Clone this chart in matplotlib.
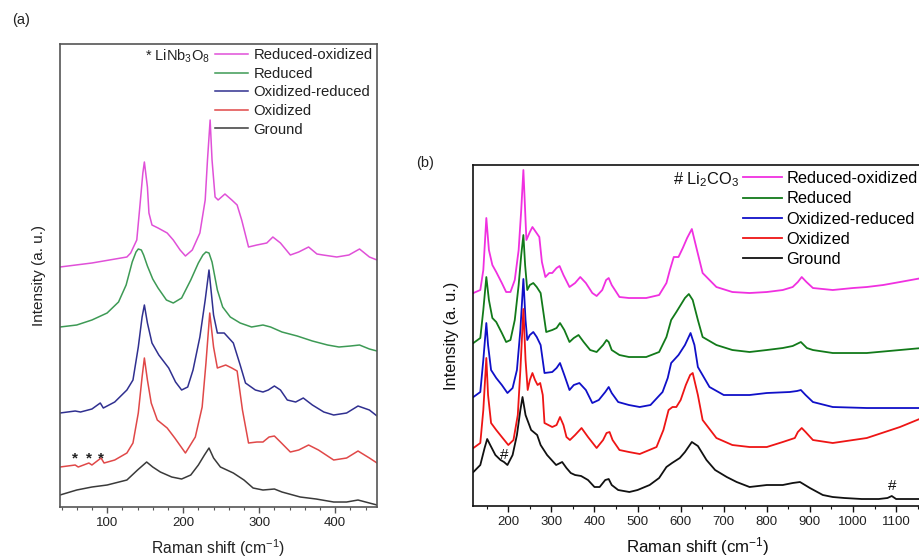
import numpy as np
import matplotlib
matplotlib.use("Agg")
import matplotlib.pyplot as plt
from matplotlib.ticker import MultipleLocator, NullLocator

plt.rcParams['font.family'] = ['Liberation Sans', 'DejaVu Sans']
plt.rcParams['mathtext.default'] = 'regular'

LABELS = ["Reduced-oxidized", "Reduced", "Oxidized-reduced", "Oxidized", "Ground"]

# (a) low-wavenumber spectra, offset stacks (a.u.)
ro_a_x = [38, 80, 126, 131, 139, 143, 147, 149, 153, 155, 159, 167, 179, 187, 196, 203, 212, 222, 229,
          232, 235.5, 238, 242, 246, 255, 264, 271, 277, 286, 297, 310, 318, 328, 341, 352, 365, 376,
          384, 402, 418, 432, 445, 455]
ro_a_y = [240, 244, 250, 254, 267, 300, 334, 345, 320, 294, 282, 279, 274, 267, 257, 251, 257, 274, 307,
          347, 387, 347, 310, 307, 313, 307, 302, 287, 260, 262, 264, 270, 264, 252, 255, 260, 253,
          252, 250, 252, 258, 250, 247]

red_a_x = [38, 60, 80, 100, 115, 125, 133, 138, 141, 145, 148, 153, 160, 167, 178, 187, 198, 210, 220,
           226, 230, 234, 238, 245, 252, 262, 275, 290, 305, 315, 330, 350, 370, 390, 405, 420, 432,
           445, 455]
red_a_y = [180, 182, 187, 194, 205, 222, 245, 255, 258, 257, 252, 241, 228, 219, 207, 204, 209, 227, 244,
           252, 255, 254, 245, 217, 200, 190, 184, 180, 182, 180, 175, 171, 166, 162, 160, 161, 162,
           158, 156]

or_a_x = [38, 58, 65, 80, 91, 95, 110, 126, 134, 141, 146, 149, 153, 159, 168, 181, 190, 198, 206, 213,
          222, 229, 234, 240, 245, 254, 266, 275, 282, 295, 305, 312, 320, 328, 337, 348, 358, 370, 385,
          398, 415, 430, 445, 455]
or_a_y = [94, 96, 95, 98, 104, 99, 105, 117, 127, 160, 190, 202, 184, 164, 152, 139, 125, 117, 120, 137,
          170, 207, 237, 192, 174, 174, 164, 142, 124, 117, 115, 117, 121, 117, 107, 105, 109, 102, 95,
          92, 94, 101, 97, 91]

ox_a_x = [38, 58, 62, 76, 80, 92, 96, 110, 126, 134, 141, 146, 149, 153, 158, 166, 179, 189, 203, 216,
          225, 230, 235, 240, 245, 256, 264, 271, 278, 286, 297, 305, 313, 320, 328, 341, 352, 365, 378,
          398, 415, 430, 445, 455]
ox_a_y = [40, 42, 40, 44, 42, 49, 44, 47, 54, 64, 94, 130, 149, 127, 104, 87, 79, 69, 54, 70, 100, 144,
          194, 160, 139, 142, 139, 136, 97, 64, 65, 65, 70, 71, 65, 55, 57, 62, 57, 47, 49, 56, 49, 44]

gr_a_x = [38, 60, 80, 100, 126, 140, 152, 160, 170, 185, 198, 210, 220, 228, 234, 240, 249, 266, 280,
          292, 305, 320, 330, 354, 375, 398, 415, 430, 445, 455]
gr_a_y = [12, 17, 20, 22, 27, 37, 45, 40, 35, 30, 28, 32, 42, 52, 59, 49, 40, 34, 27, 19, 17, 18, 15,
          10, 8, 5, 5, 7, 4, 2]

# (b) full-range spectra
ro_b_x = [119, 135, 142, 149, 155, 163, 172, 185, 195, 205, 215, 224, 230, 235, 239, 242, 250, 256, 264,
          272, 278, 286, 295, 302, 312, 319, 328, 342, 355, 367, 380, 395, 405, 418, 427, 433, 440, 458,
          480, 520, 550, 567, 575, 584, 595, 605, 615, 626, 635, 651, 683, 720, 760, 800, 837, 860, 872,
          881, 892, 907, 953, 1000, 1032, 1070, 1109, 1160]
ro_b_y = [213, 216, 236, 288, 256, 241, 234, 223, 214, 214, 226, 256, 296, 336, 296, 266, 274, 279, 274,
          269, 244, 229, 233, 233, 238, 240, 231, 219, 223, 229, 223, 213, 210, 216, 226, 228, 221, 209,
          208, 208, 211, 223, 236, 249, 249, 258, 268, 277, 261, 233, 219, 214, 213, 214, 216, 219, 224,
          229, 224, 218, 216, 218, 219, 221, 224, 228]

red_b_x = [119, 135, 142, 149, 155, 163, 172, 185, 195, 205, 215, 224, 230, 235, 239, 244, 250, 258, 266,
           275, 288, 302, 312, 320, 330, 342, 352, 363, 375, 390, 405, 420, 428, 433, 440, 458, 480, 520,
           550, 567, 578, 590, 600, 610, 619, 628, 640, 651, 683, 720, 760, 800, 837, 860, 879, 893, 907,
           953, 1032, 1109, 1160]
red_b_y = [163, 168, 196, 229, 206, 188, 184, 173, 164, 166, 186, 221, 251, 271, 241, 216, 221, 223, 219,
           213, 174, 176, 178, 183, 176, 164, 168, 171, 164, 156, 154, 161, 166, 164, 156, 151, 149, 149,
           154, 169, 186, 194, 201, 208, 212, 206, 186, 169, 161, 156, 154, 156, 158, 160, 164, 158, 156,
           153, 153, 156, 158]

or_b_x = [119, 135, 142, 149, 153, 160, 172, 185, 198, 210, 220, 228, 235, 240, 244, 250, 258, 266, 275,
          284, 302, 312, 320, 330, 342, 352, 365, 380, 395, 410, 425, 433, 440, 455, 480, 505, 530, 558,
          570, 578, 595, 610, 623, 632, 640, 667, 700, 721, 760, 800, 853, 870, 879, 890, 907, 953, 1032,
          1109, 1160]
or_b_y = [109, 114, 146, 183, 161, 136, 128, 121, 113, 118, 136, 176, 227, 186, 166, 171, 174, 169, 161,
          133, 134, 138, 143, 131, 116, 121, 123, 116, 103, 106, 114, 119, 113, 104, 101, 99, 101, 114,
          128, 143, 151, 161, 173, 161, 139, 119, 111, 111, 111, 113, 114, 115, 116, 111, 104, 99, 98,
          98, 98]

ox_b_x = [119, 135, 142, 149, 153, 160, 172, 185, 200, 212, 222, 228, 235, 240, 245, 250, 256, 262, 268,
          274, 280, 284, 302, 312, 320, 328, 335, 343, 355, 370, 385, 405, 420, 428, 435, 442, 458, 480,
          505, 544, 560, 572, 581, 590, 600, 612, 622, 628, 640, 651, 683, 720, 760, 800, 837, 865, 872,
          881, 890, 907, 953, 1032, 1109, 1160]
ox_b_y = [58, 63, 96, 148, 111, 83, 76, 69, 61, 66, 91, 136, 197, 146, 116, 126, 133, 126, 121, 123, 111,
          83, 79, 81, 89, 81, 69, 66, 71, 78, 69, 58, 66, 73, 74, 66, 56, 54, 52, 59, 76, 96, 99, 99, 106,
          121, 131, 133, 111, 86, 68, 61, 59, 59, 64, 68, 74, 78, 74, 66, 63, 68, 79, 88]

gr_b_x = [119, 135, 145, 151, 158, 170, 182, 190, 198, 210, 220, 228, 233, 240, 253, 267, 275, 290, 311,
          325, 335, 345, 355, 369, 385, 400, 412, 425, 433, 440, 455, 481, 500, 528, 550, 567, 580, 598,
          610, 626, 640, 660, 680, 707, 730, 760, 800, 837, 860, 877, 900, 930, 953, 980, 1020, 1060,
          1080, 1090, 1100, 1120, 1160]
gr_b_y = [34, 41, 58, 67, 61, 51, 46, 44, 41, 51, 71, 96, 109, 91, 76, 71, 61, 51, 41, 44, 38, 33, 31,
          30, 26, 19, 19, 26, 27, 21, 16, 14, 16, 21, 28, 39, 43, 48, 54, 64, 60, 46, 36, 29, 24, 19, 21,
          21, 23, 24, 18, 11, 9, 8, 7, 7, 8, 10, 7, 7, 7]

colors_a = ["#e050d8", "#3d9a55", "#303090", "#e04848", "#3a3a3a"]
colors_b = ["#f030e0", "#127a1a", "#1010c8", "#ee1515", "#111111"]


def style_axes(ax, xlim, ylim, major, minor, edge):
    ax.set_xlim(*xlim)
    ax.set_ylim(*ylim)
    ax.xaxis.set_major_locator(MultipleLocator(major))
    ax.xaxis.set_minor_locator(MultipleLocator(minor))
    ax.yaxis.set_major_locator(NullLocator())
    ax.tick_params(axis='x', which='major', direction='out', length=4, width=1.0, labelsize=9.5,
                   pad=3, colors=edge)
    ax.tick_params(axis='x', which='minor', direction='out', length=2.5, width=0.8, colors=edge)
    ax.tick_params(axis='x', labelcolor='#222222')
    for s in ax.spines.values():
        s.set_color(edge)
        s.set_linewidth(1.2)


def draw_panel(ax, series, colors, lw):
    lines = []
    for (x, y), c in zip(series, colors):
        lines.append(ax.plot(x, y, color=c, lw=lw, solid_joinstyle='round')[0])
    return lines


fig = plt.figure(figsize=(9.2, 5.59), dpi=100)

# panel (a)
ax_a = fig.add_axes([0.0652, 0.0930, 0.3446, 0.8283])
series_a = [(ro_a_x, ro_a_y), (red_a_x, red_a_y), (or_a_x, or_a_y), (ox_a_x, ox_a_y), (gr_a_x, gr_a_y)]
lines_a = draw_panel(ax_a, series_a, colors_a, 1.1)
style_axes(ax_a, (38, 455), (0, 463), 100, 20, '#555555')
ax_a.set_xlabel("Raman shift (cm$^{-1}$)", fontsize=11.3, labelpad=6, color='#222222')
ax_a.set_ylabel("Intensity (a. u.)", fontsize=11, labelpad=10, color='#222222')
ax_a.legend(lines_a, LABELS, loc='upper left', bbox_to_anchor=(0.489, 0.991), frameon=False,
            borderpad=0, borderaxespad=0, fontsize=10.7, handlelength=2.2, handletextpad=0.4,
            labelspacing=0.31, labelcolor='#222222')
ax_a.text(0.473, 0.974, "* LiNb$_3$O$_8$", transform=ax_a.transAxes, ha='right', va='center',
          fontsize=10.5, color='#222222')
# LiNb3O8 markers over the oxidized trace
for sx in [58, 76, 92]:
    ax_a.text(sx, 49, "*", ha='center', va='center', fontsize=11, fontweight='bold', color='#222222')

# panel (b), runs off the right edge of the figure
ax_b = fig.add_axes([0.5141, 0.0948, 0.4880, 0.6100])
series_b = [(ro_b_x, ro_b_y), (red_b_x, red_b_y), (or_b_x, or_b_y), (ox_b_x, ox_b_y), (gr_b_x, gr_b_y)]
lines_b = draw_panel(ax_b, series_b, colors_b, 1.3)
style_axes(ax_b, (118, 1160), (0, 341), 100, 50, '#111111')
ax_b.set_xlabel("Raman shift (cm$^{-1}$)", fontsize=12.2, labelpad=5, color='#111111')
ax_b.set_ylabel("Intensity (a. u.)", fontsize=11.8, labelpad=10, color='#111111')
ax_b.legend(lines_b, LABELS, loc='upper left', bbox_to_anchor=(0.601, 0.982), frameon=False,
            borderpad=0, borderaxespad=0, fontsize=11.8, handlelength=2.4, handletextpad=0.25,
            labelspacing=0.32)
ax_b.text(0.592, 0.958, "# Li$_2$CO$_3$", transform=ax_b.transAxes, ha='right', va='center',
          fontsize=11.8, color='#111111')
ax_b.text(190, 51, "#", ha='center', va='center', fontsize=11, color='#111111')
ax_b.text(1092, 20, "#", ha='center', va='center', fontsize=11, color='#111111')

fig.text(12 / 920, 1 - 20 / 559, "(a)", ha='left', va='center', fontsize=10.5, color='#222222')
fig.text(416 / 920, 1 - 163 / 559, "(b)", ha='left', va='center', fontsize=10.5, color='#222222')

fig.savefig("out.png", dpi=100)
